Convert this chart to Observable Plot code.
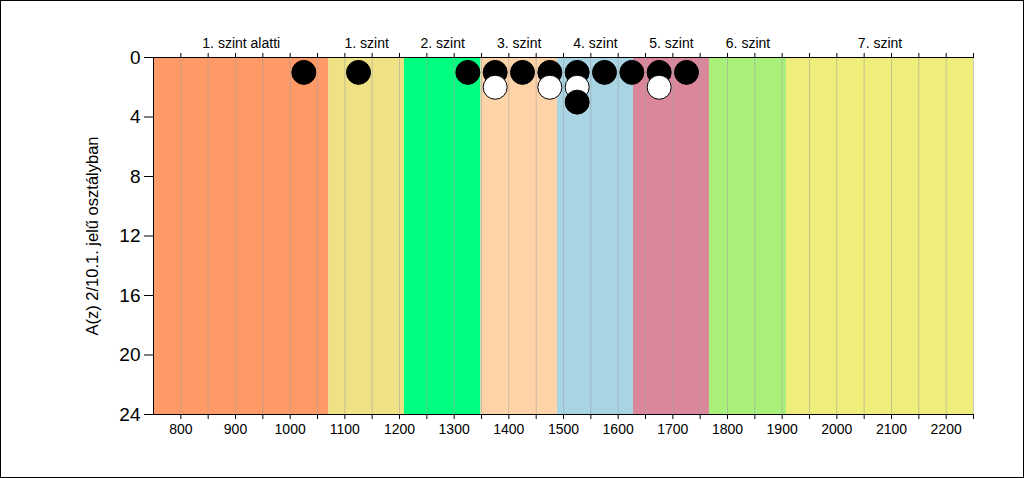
<!DOCTYPE html>
<html>
<head>
<meta charset="utf-8">
<script src="https://cdn.jsdelivr.net/npm/d3@7"></script>
<script src="https://cdn.jsdelivr.net/npm/@observablehq/plot@0.6"></script>
<style>
  html, body { margin: 0; padding: 0; background: #fff; }
  #wrap { position: relative; width: 1024px; height: 478px; overflow: hidden; }
  #frame { position: absolute; left: 0; top: 0; width: 1024px; height: 478px; box-sizing: border-box; border: 1px solid #000; pointer-events: none; }
  svg { display: block; font-family: Arial, "Liberation Sans", sans-serif; }
</style>
</head>
<body>
<div id="wrap"><div id="chart"></div><div id="frame"></div></div>
<script>
// Level bands (képességszintek)
const bandNames  = ["1. szint alatti", "1. szint", "2. szint", "3. szint", "4. szint", "5. szint", "6. szint", "7. szint"];
const bandStarts = [750, 1071, 1209, 1349, 1489, 1628, 1767, 1908];
const bandEnds   = [1071, 1209, 1349, 1489, 1628, 1767, 1908, 2250];

// Dots: score bin centre, stack position (count), group
const pointScores = [1025, 1125, 1325, 1375, 1425, 1475, 1525, 1575, 1625, 1675, 1725, 1375, 1475, 1525, 1675, 1525];
const pointCounts = [1, 1, 1, 1, 1, 1, 1, 1, 1, 1, 1, 2, 2, 2, 2, 3];
const pointGroups = ["A", "A", "A", "A", "A", "A", "A", "A", "A", "A", "A", "B", "B", "B", "B", "A"];

// Axis ticks
const yTicks = [0, 4, 8, 12, 16, 20, 24];
const xTicks = d3.range(800, 2251, 50);
const xLabelTicks = [800, 900, 1000, 1100, 1200, 1300, 1400, 1500, 1600, 1700, 1800, 1900, 2000, 2100, 2200];

const bandColors = ["#FF9966", "#EEE285", "#00FF80", "#FFD3A8", "#A8D4E4", "#DB879B", "#A8F07A", "#F0EE7A"];
const groupColors = {A: "#000000", B: "#ffffff"};

const bands = bandNames.map((name, i) => ({name, x1: bandStarts[i], x2: bandEnds[i], color: bandColors[i], mid: (bandStarts[i] + bandEnds[i]) / 2}));
const points = pointScores.map((s, i) => ({score: s, count: pointCounts[i], group: pointGroups[i]}))
  .sort((a, b) => a.count - b.count);

const chart = Plot.plot({
  width: 1024,
  height: 478,
  marginLeft: 153,
  marginRight: 51,
  marginTop: 57,
  marginBottom: 64,
  style: {fontFamily: "Arial, 'Liberation Sans', sans-serif", background: "transparent"},
  x: {domain: [750, 2250]},
  y: {domain: [0, 24], reverse: true},
  color: {type: "identity"},
  marks: [
    Plot.rectX(bands, {x1: "x1", x2: "x2", y1: 0, y2: 24, fill: "color"}),
    Plot.ruleX(xTicks, {stroke: "#a0a0a0", strokeOpacity: 0.55, strokeWidth: 1}),
    Plot.ruleY([0], {stroke: "#000", strokeWidth: 1}),
    Plot.ruleY([24], {stroke: "#000", strokeWidth: 1}),
    Plot.ruleX([750], {stroke: "#000", strokeWidth: 1}),
    Plot.axisY({ticks: yTicks, tickSize: 9, tickPadding: 4, fontSize: 19, label: null, tickFormat: d => String(d)}),
    Plot.text(["A(z) 2/10.1. jelű osztályban"], {frameAnchor: "left", textAnchor: "middle", dx: -61, rotate: -90, fontSize: 16.5, fill: "#000"}),
    Plot.axisX({anchor: "bottom", ticks: xTicks, tickSize: 5, tickPadding: 5, fontSize: 14, label: null,
      tickFormat: d => xLabelTicks.includes(d) ? String(d) : ""}),
    Plot.axisX({anchor: "top", ticks: xTicks, tickSize: 5, label: null, tickFormat: () => ""}),
    Plot.text(bands, {x: "mid", text: "name", frameAnchor: "top", dy: -10, lineAnchor: "bottom", fontSize: 14, fill: "#000"}),
    Plot.dot(points, {x: "score", y: "count", r: 12, fill: d => groupColors[d.group], stroke: "#000", strokeWidth: 1})
  ]
});
document.getElementById("chart").appendChild(chart);
</script>
</body>
</html>
